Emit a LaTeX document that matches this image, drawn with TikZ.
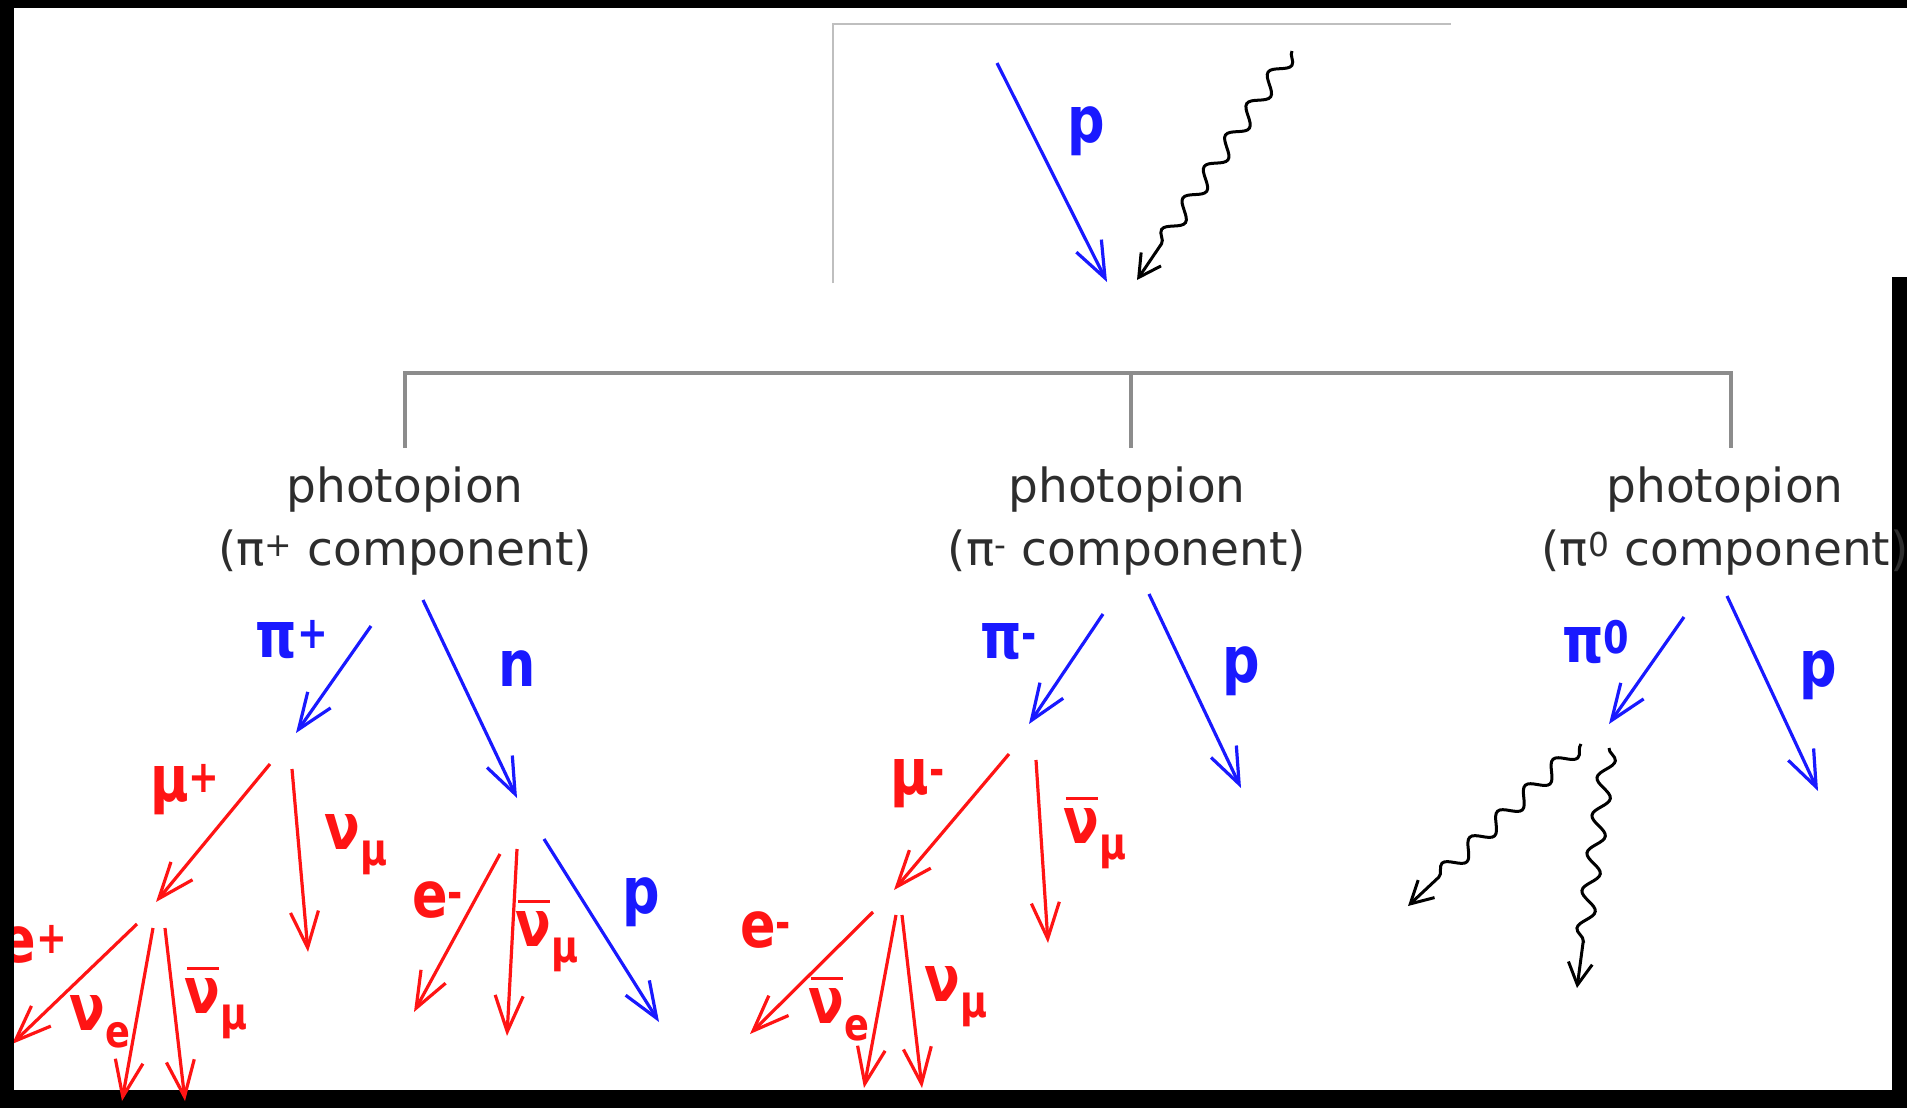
\documentclass[tikz,border=0pt]{standalone}
\usepackage{fontspec}
\setmainfont{DejaVu Sans}
\newfontfamily\labfont{DejaVu Sans}[FakeStretch=0.82]
\usetikzlibrary{arrows.meta,decorations.pathmorphing}

\definecolor{hblue}{RGB}{25,25,255}
\definecolor{lred}{RGB}{255,20,20}
\definecolor{chgray}{RGB}{45,45,45}

\newcommand{\nubar}{\rlap{\hspace{0.04em}\rule[0.68em]{0.5em}{0.05em}}ν}

\tikzset{
  part/.style={line width=3.2pt,-{Straight Barb[length=36pt,width=28pt]}},
  hadron/.style={part,hblue},
  lepton/.style={part,lred},
  photon/.style={line width=3pt,black,-{Straight Barb[length=22pt,width=24pt]},
    decorate,decoration={snake,amplitude=8pt,segment length=38pt,post length=36pt}},
  lab/.style={font=\fontsize{64}{64}\labfont\bfseries,inner sep=0pt},
  chan/.style={font=\fontsize{47}{63}\selectfont,text=chgray,align=center,inner sep=0pt},
  tree/.style={line width=4pt,black!45},
  boxline/.style={line width=2pt,black!25}
}

\begin{document}
\begin{tikzpicture}[x=1pt,y=-1pt]
  \useasboundingbox (0,0) rectangle (1907,1108);
  \fill[white] (0,0) rectangle (1907,1108);
  \fill[black] (1892,277) rectangle (1907,1108);
  \fill[black] (0,1090) rectangle (1907,1108);

  % incoming p + gamma
  \coordinate (box-bl) at (833,283);
  \coordinate (box-tr) at (1451,24);
  \draw[boxline] (box-bl) |- (box-tr);

  % branching into the three channels
  \coordinate (jL) at (405,448);
  \coordinate (jM) at (1131,448);
  \coordinate (jR) at (1731,448);
  \draw[tree] (jL) -- ++(0,-75) -| (jR);
  \draw[tree] (jM) -- ++(0,-75);

  \node[chan] (chL) at (405,521) {photopion\\(π\textsuperscript{+} component)};
  \node[chan] (chM) at (1127,521) {photopion\\(π\textsuperscript{-} component)};
  \node[chan] (chR) at (1725,521) {photopion\\(π\textsuperscript{0} component)};

  % hadrons
  \foreach \nm/\xa/\ya/\xb/\yb in {pin/997/63/1107/282, pip/371/626/296/733,
      nL/423/600/517/798, pnL/544/839/659/1022, pim/1103/614/1029/724,
      pM/1149/594/1241/788, piz/1684/617/1609/724, pR/1727/596/1818/791}{
    \coordinate (\nm-s) at (\xa,\ya);
    \coordinate (\nm-e) at (\xb,\yb);
    \draw[hadron] (\nm-s) -- (\nm-e);
  }

  % leptons
  \foreach \nm/\xa/\ya/\xb/\yb in {mup/270/764/156/902, numuL/292/769/308/952,
      ep/137/924/12/1044, nue/153/928/122/1101, nubmuL/165/928/185/1101,
      emn/500/854/414/1012, nubmun/517/849/507/1036,
      mum/1009/754/894/890, nubmuM/1036/760/1048/943,
      emM/873/912/750/1034, nubeM/896/915/864/1088, numuM/902/915/922/1088}{
    \coordinate (\nm-s) at (\xa,\ya);
    \coordinate (\nm-e) at (\xb,\yb);
    \draw[lepton] (\nm-s) -- (\nm-e);
  }

  % photons
  \foreach \nm/\xa/\ya/\xb/\yb in {gin/1292/51/1137/280,
      gA/1581/744/1408/906, gB/1609/748/1577/988}{
    \coordinate (\nm-s) at (\xa,\ya);
    \coordinate (\nm-e) at (\xb,\yb);
    \draw[photon] (\nm-s) -- (\nm-e);
  }

  % particle labels
  \foreach \nm/\x/\y/\t in {lpin/1086/131/p, lpip/292/640/π\textsuperscript{+},
      lnL/517/669/n, lpnL/641/902/p, lpim/1009/642/π\textsuperscript{-},
      lpM/1241/671/p, lpiz/1596/642/π\textsuperscript{0}, lpR/1818/675/p}
    \node[lab,text=hblue] (\nm) at (\x,\y) {\t};
  \foreach \nm/\x/\y/\t in {lmup/185/790/μ\textsuperscript{+},
      lnumuL/356/845/ν\textsubscript{μ}, lep/34/944/e\textsuperscript{+},
      lnue/100/1022/ν\textsubscript{e}, lnubmuL/216/1003/\nubar\textsubscript{μ},
      lemn/438/900/e\textsuperscript{-}, lnubmun/547/936/\nubar\textsubscript{μ},
      lmum/918/784/μ\textsuperscript{-}, lnubmuM/1095/833/\nubar\textsubscript{μ},
      lemM/766/930/e\textsuperscript{-}, lnubeM/839/1009/\nubar\textsubscript{e},
      lnumuM/956/997/ν\textsubscript{μ}}
    \node[lab,text=lred] (\nm) at (\x,\y) {\t};

  % frame
  \fill[black] (0,0) rectangle (1907,8);
  \fill[black] (0,0) rectangle (14,1108);
\end{tikzpicture}
\end{document}
